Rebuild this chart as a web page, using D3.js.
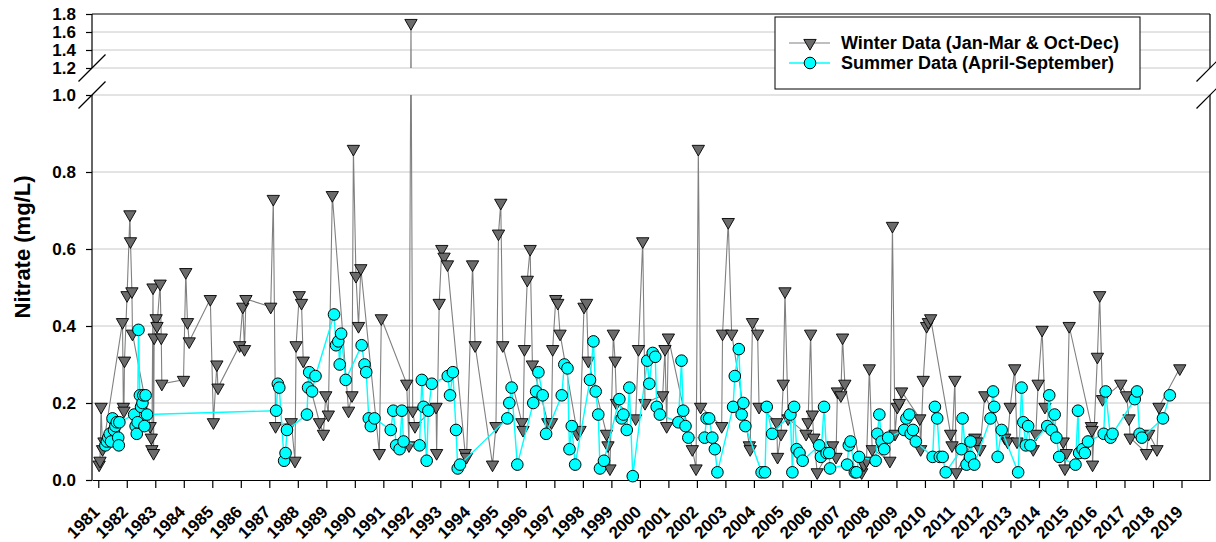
<!DOCTYPE html>
<meta charset="utf-8">
<style>
body { margin:0; background:#fff; }
svg text { font-family: "Liberation Sans", Arial, sans-serif; font-weight: bold; fill:#000; }
.grid { stroke:#c8c8c8; stroke-width:1; }
.frame { stroke:#000; stroke-width:1.2; fill:none; }
.axis path, .axis line { stroke:#000; stroke-width:1.2; }
</style>
<body>
<svg width="1216" height="542" id="vis"></svg>
</body>
<script src="https://d3js.org/d3.v7.min.js"></script>
<script>
// winter samples (Jan-Mar & Oct-Dec): [decimal year, nitrate mg/L]
var winter = [
  [1981.03,0.04],[1981.06,0.05],[1981.10,0.19],[1981.15,0.08],[1981.20,0.10],
  [1981.85,0.41],[1981.88,0.19],[1981.90,0.18],[1981.92,0.31],[1982.01,0.48],
  [1982.11,0.69],[1982.13,0.62],[1982.18,0.49],[1982.20,0.38],
  [1982.82,0.14],[1982.86,0.11],[1982.88,0.08],[1982.92,0.50],[1982.94,0.07],[1982.96,0.37],
  [1983.03,0.42],[1983.06,0.40],[1983.17,0.51],[1983.21,0.37],[1983.23,0.25],
  [1983.99,0.26],[1984.07,0.54],[1984.13,0.41],[1984.19,0.36],
  [1984.93,0.47],[1985.04,0.15],[1985.16,0.30],[1985.20,0.24],
  [1985.96,0.35],[1986.07,0.45],[1986.13,0.34],[1986.18,0.47],
  [1987.05,0.45],[1987.14,0.73],[1987.22,0.14],
  [1987.77,0.15],[1987.90,0.05],[1987.94,0.35],[1988.05,0.48],[1988.13,0.46],[1988.19,0.31],
  [1988.76,0.15],[1988.90,0.12],[1988.98,0.22],[1989.07,0.17],[1989.21,0.74],
  [1989.78,0.18],[1989.90,0.22],[1989.95,0.86],[1990.04,0.53],[1990.13,0.40],[1990.21,0.55],
  [1990.86,0.07],[1990.93,0.42],
  [1991.82,0.25],[1991.90,0.09],[1991.97,1.70],[1992.03,0.18],[1992.11,0.14],
  [1992.85,0.19],[1992.87,0.07],[1992.96,0.46],[1993.05,0.60],[1993.13,0.58],[1993.25,0.56],
  [1993.87,0.07],[1993.92,0.06],[1994.13,0.56],[1994.22,0.35],
  [1994.83,0.04],[1994.95,0.14],[1995.04,0.64],[1995.12,0.72],[1995.19,0.35],
  [1995.86,0.15],[1995.90,0.13],[1995.95,0.34],[1996.05,0.52],[1996.15,0.60],[1996.23,0.30],
  [1996.77,0.15],[1996.90,0.15],[1996.94,0.34],[1997.05,0.47],[1997.12,0.46],[1997.20,0.38],
  [1997.81,0.12],[1997.90,0.13],[1998.04,0.45],[1998.13,0.46],[1998.19,0.31],
  [1998.83,0.12],[1998.88,0.09],[1998.95,0.03],[1999.07,0.38],[1999.13,0.31],[1999.18,0.20],
  [1999.85,0.16],[1999.95,0.34],[2000.10,0.62],[2000.18,0.20],
  [2000.80,0.22],[2000.88,0.34],[2000.94,0.14],[2001.00,0.37],
  [2001.84,0.08],[2001.97,0.03],[2002.05,0.86],[2002.13,0.19],
  [2002.87,0.14],[2002.90,0.38],[2003.10,0.67],[2003.22,0.38],
  [2003.84,0.09],[2003.87,0.08],[2003.95,0.41],[2004.13,0.38],[2004.18,0.19],
  [2004.80,0.15],[2004.83,0.06],[2004.95,0.12],[2005.03,0.25],[2005.09,0.49],[2005.20,0.16],
  [2005.83,0.12],[2005.90,0.15],[2005.99,0.38],[2006.05,0.17],[2006.10,0.11],[2006.22,0.02],
  [2006.76,0.09],[2006.88,0.06],[2006.93,0.23],[2007.05,0.22],[2007.11,0.37],[2007.19,0.25],
  [2007.78,0.02],[2007.86,0.04],[2007.95,0.05],[2008.05,0.29],[2008.15,0.08],
  [2008.77,0.05],[2008.86,0.66],[2008.95,0.12],[2009.03,0.19],[2009.10,0.20],[2009.18,0.23],
  [2009.82,0.16],[2009.85,0.08],[2009.94,0.26],[2010.06,0.40],[2010.12,0.41],[2010.20,0.42],
  [2010.90,0.12],[2010.95,0.09],[2011.05,0.26],[2011.10,0.02],
  [2011.75,0.11],[2011.82,0.10],[2011.93,0.08],[2012.10,0.22],
  [2012.80,0.11],[2012.90,0.10],[2012.99,0.19],[2013.15,0.29],[2013.23,0.10],
  [2013.80,0.08],[2013.89,0.12],[2013.97,0.25],[2014.11,0.39],[2014.21,0.19],
  [2014.85,0.10],[2014.91,0.03],[2014.96,0.07],[2015.06,0.40],
  [2015.84,0.14],[2015.86,0.13],[2015.88,0.04],[2016.05,0.32],[2016.13,0.48],[2016.23,0.21],
  [2016.87,0.25],[2017.07,0.22],[2017.16,0.16],[2017.20,0.11],
  [2017.77,0.07],[2017.85,0.12],[2018.14,0.08],[2018.21,0.19],
  [2018.94,0.29]
];

// summer samples (April-September)
var summer = [
  [1981.25,0.09],[1981.30,0.10],[1981.35,0.11],[1981.40,0.12],[1981.45,0.10],[1981.50,0.16],
  [1981.55,0.13],[1981.60,0.14],[1981.65,0.15],[1981.70,0.11],[1981.72,0.09],[1981.74,0.15],
  [1982.26,0.17],[1982.31,0.14],[1982.35,0.12],[1982.38,0.15],[1982.41,0.39],[1982.46,0.22],
  [1982.50,0.19],[1982.55,0.20],[1982.58,0.22],[1982.62,0.14],[1982.66,0.22],[1982.71,0.17],
  [1987.24,0.18],[1987.30,0.25],[1987.35,0.24],[1987.52,0.05],[1987.57,0.07],[1987.62,0.13],
  [1988.32,0.17],[1988.36,0.24],[1988.40,0.28],[1988.50,0.23],[1988.62,0.27],
  [1989.27,0.43],[1989.34,0.35],[1989.42,0.36],[1989.47,0.30],[1989.52,0.38],[1989.68,0.26],
  [1990.24,0.35],[1990.34,0.30],[1990.40,0.28],[1990.49,0.16],[1990.56,0.14],[1990.69,0.16],
  [1991.26,0.13],[1991.35,0.18],[1991.45,0.09],[1991.57,0.08],[1991.65,0.18],[1991.71,0.10],
  [1992.27,0.09],[1992.35,0.26],[1992.41,0.19],[1992.52,0.05],[1992.58,0.18],[1992.70,0.25],
  [1993.26,0.27],[1993.34,0.22],[1993.44,0.28],[1993.55,0.13],[1993.61,0.03],[1993.69,0.04],
  [1995.35,0.16],[1995.42,0.20],[1995.50,0.24],[1995.70,0.04],
  [1996.26,0.20],[1996.36,0.23],[1996.44,0.28],[1996.59,0.22],[1996.71,0.12],
  [1997.26,0.22],[1997.35,0.30],[1997.46,0.29],[1997.53,0.08],[1997.61,0.14],[1997.73,0.04],
  [1998.25,0.26],[1998.37,0.36],[1998.45,0.23],[1998.54,0.17],[1998.60,0.03],[1998.74,0.05],
  [1999.28,0.21],[1999.36,0.16],[1999.42,0.17],[1999.54,0.13],[1999.63,0.24],[1999.75,0.01],
  [2000.26,0.31],[2000.33,0.25],[2000.45,0.33],[2000.54,0.32],[2000.59,0.19],[2000.70,0.17],
  [2001.35,0.15],[2001.46,0.31],[2001.52,0.18],[2001.60,0.14],[2001.70,0.11],
  [2002.27,0.11],[2002.34,0.16],[2002.43,0.16],[2002.54,0.11],[2002.63,0.08],[2002.72,0.02],
  [2003.27,0.19],[2003.33,0.27],[2003.47,0.34],[2003.57,0.17],[2003.63,0.20],[2003.70,0.14],
  [2004.27,0.02],[2004.39,0.02],[2004.45,0.19],[2004.64,0.12],
  [2005.28,0.17],[2005.35,0.02],[2005.41,0.19],[2005.50,0.08],[2005.60,0.07],[2005.71,0.05],
  [2006.29,0.09],[2006.35,0.06],[2006.46,0.19],[2006.55,0.07],[2006.64,0.07],[2006.67,0.03],
  [2007.27,0.04],[2007.33,0.09],[2007.39,0.10],[2007.54,0.02],[2007.60,0.02],[2007.69,0.06],
  [2008.27,0.05],[2008.33,0.12],[2008.40,0.17],[2008.48,0.10],[2008.57,0.08],[2008.71,0.11],
  [2009.27,0.13],[2009.35,0.16],[2009.45,0.17],[2009.50,0.12],[2009.58,0.13],[2009.68,0.10],
  [2010.27,0.06],[2010.35,0.19],[2010.43,0.16],[2010.52,0.06],[2010.62,0.06],[2010.73,0.02],
  [2011.28,0.08],[2011.32,0.16],[2011.46,0.04],[2011.58,0.06],[2011.60,0.10],[2011.73,0.04],
  [2012.30,0.16],[2012.39,0.23],[2012.43,0.19],[2012.55,0.06],[2012.69,0.13],
  [2013.27,0.02],[2013.39,0.24],[2013.45,0.15],[2013.54,0.09],[2013.62,0.14],[2013.70,0.09],
  [2014.29,0.14],[2014.36,0.22],[2014.44,0.13],[2014.55,0.17],[2014.61,0.11],[2014.71,0.06],
  [2015.28,0.04],[2015.37,0.18],[2015.41,0.07],[2015.53,0.08],[2015.61,0.07],[2015.72,0.10],
  [2016.27,0.12],[2016.34,0.23],[2016.51,0.11],[2016.58,0.12],
  [2017.36,0.21],[2017.44,0.23],[2017.53,0.12],[2017.61,0.11],
  [2018.35,0.16],[2018.59,0.22]
];

var yTicks = [0, 0.2, 0.4, 0.6, 0.8, 1.0, 1.2, 1.4, 1.6, 1.8];
var gridTicks = [0.2, 0.4, 0.6, 0.8, 1.0, 1.2, 1.4, 1.6];
var years = d3.range(1981, 2020);
var legendLabels = ["Winter Data (Jan-Mar & Oct-Dec)", "Summer Data (April-September)"];

var svg = d3.select("svg"),
    plotLeft = 92, plotRight = 1210, plotTop = 14, plotBottom = 480;

var x = d3.scaleLinear().domain([1980.78, 2020.0]).range([plotLeft, plotRight]);
// broken axis: 0-1.0 lower panel, 1.2-1.8 upper panel
var y = d3.scaleLinear().domain([0, 1.0, 1.2, 1.8]).range([plotBottom, 95, 68, plotTop]);

// lines are cut in the gap between the two panels
var clip = svg.append("defs").append("clipPath").attr("id", "panels");
clip.append("rect").attr("x", 0).attr("width", 1216)
    .attr("y", y(1.0)).attr("height", 542 - y(1.0));
clip.append("rect").attr("x", 0).attr("width", 1216)
    .attr("y", 0).attr("height", y(1.2));

// gridlines
svg.selectAll("line.grid").data(gridTicks).enter().append("line")
    .attr("class", "grid")
    .attr("x1", plotLeft).attr("x2", plotRight)
    .attr("y1", function(d){ return y(d); })
    .attr("y2", function(d){ return y(d); });

// frame pieces (broken between 1.0 and 1.2)
var frame = svg.append("g").attr("class", "frame");
[plotLeft, plotRight].forEach(function(px) {
  frame.append("line").attr("x1", px).attr("x2", px).attr("y1", y(0)).attr("y2", y(1.0));
  frame.append("line").attr("x1", px).attr("x2", px).attr("y1", y(1.2)).attr("y2", y(1.8));
  [1.0, 1.2].forEach(function(v) {
    frame.append("line")
      .attr("x1", px - 13.5).attr("y1", y(v) + 13.5)
      .attr("x2", px + 13.5).attr("y2", y(v) - 13.5);
  });
});
frame.append("line").attr("x1", plotLeft).attr("x2", plotRight).attr("y1", y(1.8)).attr("y2", y(1.8));

// y axis
var yaxis = svg.append("g")
    .attr("class", "axis")
    .attr("transform", "translate(" + plotLeft + ",0)")
    .call(d3.axisLeft(y).tickValues(yTicks).tickFormat(d3.format(".1f")).tickSize(6).tickPadding(10));
yaxis.select(".domain").remove();
yaxis.selectAll("text").style("font-size", "17px");

// x axis
var xaxis = svg.append("g")
    .attr("class", "axis")
    .attr("transform", "translate(0," + plotBottom + ")")
    .call(d3.axisBottom(x).tickValues(years).tickFormat(d3.format("d")).tickSize(8).tickSizeOuter(0));
xaxis.selectAll("text")
    .style("font-size", "17px")
    .attr("text-anchor", "end")
    .attr("x", 0).attr("y", 0).attr("dy", 0)
    .attr("transform", "translate(2,33) rotate(-45)");

svg.append("text")
    .attr("transform", "translate(30,247) rotate(-90)")
    .attr("text-anchor", "middle")
    .style("font-size", "22px")
    .text("Nitrate (mg/L)");

var line = d3.line()
    .x(function(d){ return x(d[0]); })
    .y(function(d){ return y(d[1]); });

var tri = d3.symbol().type(d3.symbolTriangle).size(66);

// winter series
svg.append("path").datum(winter)
    .attr("d", line)
    .attr("clip-path", "url(#panels)")
    .attr("fill", "none").attr("stroke", "#808080").attr("stroke-width", 1.1);
svg.selectAll("path.win").data(winter).enter().append("path")
    .attr("class", "win")
    .attr("d", tri)
    .attr("transform", function(d){ return "translate(" + x(d[0]) + "," + y(d[1]) + ") rotate(180)"; })
    .attr("fill", "#6b6b6b").attr("stroke", "#000").attr("stroke-width", 0.9);

// summer series
svg.append("path").datum(summer)
    .attr("d", line)
    .attr("clip-path", "url(#panels)")
    .attr("fill", "none").attr("stroke", "#00ffff").attr("stroke-width", 1.4);
svg.selectAll("circle.sum").data(summer).enter().append("circle")
    .attr("class", "sum")
    .attr("cx", function(d){ return x(d[0]); })
    .attr("cy", function(d){ return y(d[1]); })
    .attr("r", 5.8)
    .attr("fill", "#00ffff").attr("stroke", "#000").attr("stroke-width", 1);

// legend
var legend = svg.append("g").attr("transform", "translate(775,17)");
legend.append("rect").attr("width", 365).attr("height", 72)
    .attr("fill", "#fff").attr("stroke", "#000").attr("stroke-width", 1);
var rows = legend.selectAll("g.row").data(legendLabels).enter().append("g")
    .attr("class", "row")
    .attr("transform", function(d, i){ return "translate(0," + (26 + i * 20) + ")"; });
rows.append("line").attr("x1", 14).attr("x2", 55)
    .attr("stroke", function(d, i){ return i ? "#00ffff" : "#808080"; })
    .attr("stroke-width", function(d, i){ return i ? 1.4 : 1.1; });
rows.filter(function(d, i){ return i == 0; }).append("path")
    .attr("d", tri).attr("transform", "translate(35,0) rotate(180)")
    .attr("fill", "#6b6b6b").attr("stroke", "#000").attr("stroke-width", 0.9);
rows.filter(function(d, i){ return i == 1; }).append("circle")
    .attr("cx", 35).attr("r", 5.8)
    .attr("fill", "#00ffff").attr("stroke", "#000");
rows.append("text").attr("x", 66).attr("dy", "0.36em")
    .style("font-size", "18px")
    .text(function(d){ return d; });
</script>
